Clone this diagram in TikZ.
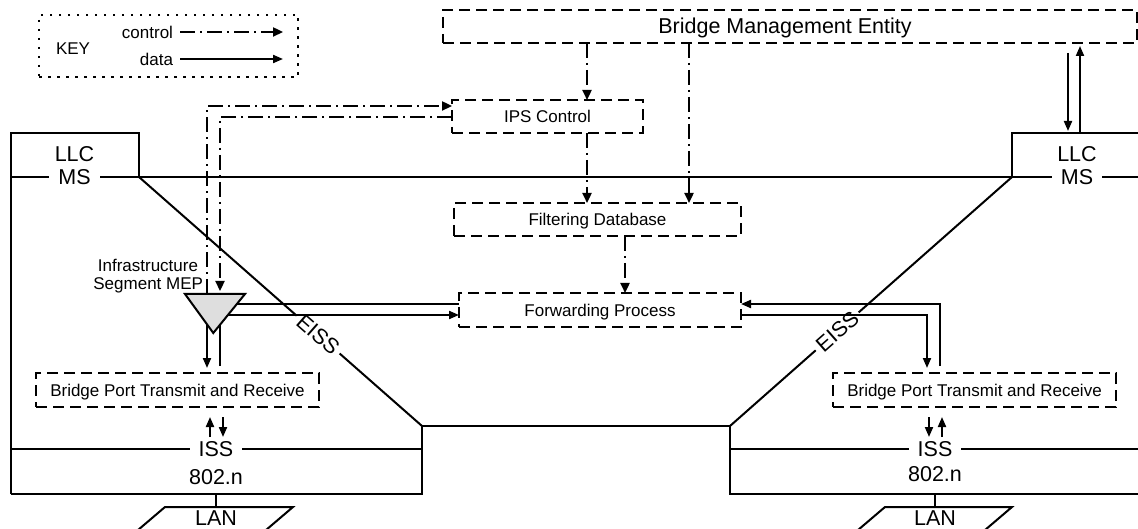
\documentclass[tikz,border=0pt]{standalone}
\usepackage{fontspec}
\setmainfont{Liberation Sans}
\usetikzlibrary{arrows.meta}
\begin{document}
\begin{tikzpicture}[x=1pt,y=-1pt,
  line width=2pt,
  txt/.style={font=\fontsize{17}{20}\selectfont, text depth=0pt, inner sep=0pt},
  big/.style={font=\fontsize{21.5}{25}\selectfont, text depth=0pt, inner sep=0pt},
  dbox/.style={draw, dash pattern=on 11pt off 6pt, line width=2.5pt, inner sep=0pt, outer sep=0pt, txt},
  ctrl/.style={line width=2.3pt, dash pattern=on 15pt off 5pt on 2pt off 5pt, -{Triangle[length=10pt,width=9pt]}},
  data/.style={line width=2pt, -{Triangle[length=10pt,width=8pt]}},
  frame/.style={line width=2pt},
  lbl/.style={big, fill=white, inner xsep=9pt, inner ysep=1pt},
]
\clip (0,0) rectangle (1138,529);
\useasboundingbox (0,0) rectangle (1138,529);

% ---------- frame ----------
\draw[frame] (11,494) -- (11,133) -- (139,133) -- (139,177);
\draw[frame] (11,494) -- (422,494) -- (422,426) -- (730,426) -- (730,494) -- (1145,494);
\draw[frame] (1012,177) -- (1012,133) -- (1145,133);
\draw[frame] (11,177) -- (1145,177);
\draw[frame] (11,449) -- (422,449);
\draw[frame] (730,449) -- (1145,449);
\draw[frame] (139,177) -- node[big, fill=white, sloped, pos=0.633, inner xsep=4pt, inner ysep=1pt] (eissL) {EISS} (422,426);
\draw[frame] (730,426) -- node[big, fill=white, sloped, pos=0.38, inner xsep=4pt, inner ysep=1pt] (eissR) {EISS} (1012,177);

\node[big] (llcL) at (74.5,154) {LLC};
\node[lbl] (msL) at (74.5,177) {MS};
\node[big] (llcR) at (1077,154) {LLC};
\node[lbl] (msR) at (1077,177) {MS};
\node[lbl] (issL) at (216,449) {ISS};
\node[big] (nL) at (216,477) {802.n};
\node[lbl] (issR) at (935,449) {ISS};
\node[big] (nR) at (935,474) {802.n};

% ---------- LAN ----------
\coordinate (lanL) at (216,507);
\coordinate (lanR) at (935,507);
\draw[frame] (216,494) -- (lanL);
\draw[frame] (935,494) -- (lanR);
\draw[frame] (131,536) -- (165,507) -- (293,507) -- (259,536);
\draw[frame] (851,536) -- (885,507) -- (1012,507) -- (978,536);
\node[big] (lanLt) at (216,518) {LAN};
\node[big] (lanRt) at (935,518) {LAN};

% ---------- key ----------
\node[draw, line width=2.5pt, dash pattern=on 2.5pt off 6.5pt, minimum width=259pt, minimum height=62pt, inner sep=0pt] (key) at (168.5,46) {};
\node[txt, anchor=west] (keyt) at (55,49) {KEY};
\node[txt, anchor=east] (ctl) at (174,32) {control};
\node[txt, anchor=east] (dat) at (174,59) {data};
\coordinate (ctlE) at (283,32);
\coordinate (datE) at (283,59);
\draw[ctrl] ([xshift=6pt]ctl.east) -- (ctlE);
\draw[data] ([xshift=6pt]dat.east) -- (datE);

% ---------- boxes ----------
\node[dbox, minimum width=694pt, minimum height=33pt] (bme) at (790,26.5) {};
\node[big] (bmet) at (785,26) {Bridge Management Entity};
\node[dbox, minimum width=191pt, minimum height=33pt] (ips) at (547.5,116.5) {IPS Control};
\node[dbox, minimum width=287pt, minimum height=33pt] (fdb) at (597.5,219.5) {Filtering Database};
\node[dbox, minimum width=282pt, minimum height=34pt] (fp) at (600,310) {Forwarding Process};
\node[dbox, minimum width=283pt, minimum height=34pt] (bpL) at (177.5,390) {Bridge Port Transmit and Receive};
\node[dbox, minimum width=283pt, minimum height=34pt] (bpR) at (974.5,390) {Bridge Port Transmit and Receive};

% ---------- control connectors ----------
\coordinate (X1) at (587,0);
\coordinate (X2) at (689,0);
\coordinate (X3) at (625,0);
\draw[ctrl] (bme.south -| X1) -- (ips.north -| X1);
\draw[ctrl] (ips.south -| X1) -- (fdb.north -| X1);
\draw[ctrl] (bme.south -| X2) -- (fdb.north -| X2);
\draw[ctrl] (fdb.south -| X3) -- (fp.north -| X3);

% ---------- MEP ----------
\coordinate (mepL) at (185,294);
\coordinate (mepR) at (245,294);
\coordinate (mepB) at (213.3,333);
\filldraw[fill=black!13, line width=2pt, line join=miter] (mepL) -- (mepR) -- (mepB) -- cycle;
\node[txt, anchor=east] (infra) at (199,265) {Infrastructure};
\node[txt, anchor=east] (segm) at (204,284) {Segment MEP};
\coordinate (mepT1) at (207,294);
\coordinate (mepT2) at (220,291);
\draw[ctrl] (mepT1) -- (207,106) -- ([yshift=10.5pt]ips.west);
\draw[ctrl] ([yshift=-0.5pt]ips.west) -- (220,117) -- (mepT2);

% ---------- data connectors ----------
\coordinate (Y1) at (0,304);
\coordinate (Y2) at (0,315);
\coordinate (mepO1) at (237,304);
\coordinate (mepO2) at (228,315);
\draw[frame] (mepO1) -- (fp.west |- Y1);
\draw[data] (mepO2) -- (fp.west |- Y2);
\coordinate (mepD1) at (207,324);
\coordinate (mepD2) at (220,324.5);
\draw[data, shorten >=5pt] (mepD1) -- (bpL.north -| mepD1);
\draw[frame, shorten <=7pt] (bpL.north -| mepD2) -- (mepD2);

\coordinate (R1) at (940,0);
\coordinate (R2) at (927,0);
\draw[data, shorten <=7pt] (bpR.north -| R1) -- (R1 |- Y1) -- (fp.east |- Y1);
\draw[data, shorten >=5pt] (fp.east |- Y2) -- (R2 |- Y2) -- (bpR.north -| R2);

% ISS arrows
\draw[data] (210,437) -- (210,417);
\draw[data] (223,417) -- (223,437);
\draw[data] (929,417) -- (929,437);
\draw[data] (942,437) -- (942,417);

% BME <-> LLC
\draw[data] (1068,53) -- (1068,131);
\draw[data] (1080,133) -- (1080,46);
\end{tikzpicture}
\end{document}
